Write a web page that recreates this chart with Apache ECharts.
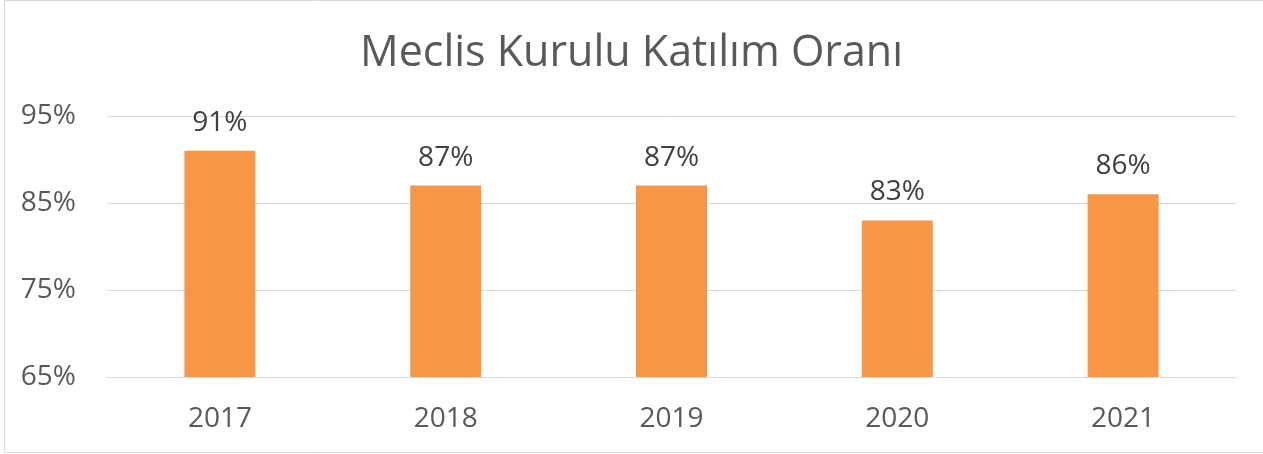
<!DOCTYPE html>
<html>
<head>
<meta charset="utf-8">
<script src="https://cdn.jsdelivr.net/npm/echarts@6/dist/echarts.min.js"></script>
<style>
html,body{margin:0;padding:0;background:#fff;}
#c{width:1263px;height:454px;}
</style>
</head>
<body>
<div id="c"></div>
<script>
var titleText = 'Meclis Kurulu Katılım Oranı';
var categories = ['2017', '2018', '2019', '2020', '2021'];
var values = [91, 87, 87, 83, 86];
var yMin = 65, yMax = 95, yStep = 10;

var chart = echarts.init(document.getElementById('c'));
var font = '"Open Sans", "Noto Sans", sans-serif';
chart.setOption({
  animation: false,
  title: {
    text: titleText,
    left: 'center',
    top: 27,
    textStyle: {fontFamily: font, fontSize: 43, fontWeight: 'normal', color: '#595959'}
  },
  graphic: [{
    type: 'rect', shape: {x: 4.5, y: 0.5, width: 1300, height: 452},
    style: {fill: 'none', stroke: '#D9D9D9', lineWidth: 1}, silent: true
  }],
  grid: {left: 107, right: 27, top: 116, bottom: 77},
  xAxis: {
    type: 'category',
    data: categories,
    axisLine: {show: true, lineStyle: {color: '#D9D9D9', width: 1}},
    axisTick: {show: false},
    axisLabel: {fontFamily: font, fontSize: 28, color: '#595959', margin: 28}
  },
  yAxis: {
    type: 'value',
    min: yMin, max: yMax, interval: yStep,
    axisLine: {show: false},
    axisTick: {show: false},
    splitLine: {lineStyle: {color: '#D9D9D9', width: 1}},
    axisLabel: {fontFamily: font, fontSize: 28, color: '#595959', margin: 31, formatter: '{value}%'}
  },
  series: [{
    type: 'bar',
    data: values,
    barWidth: 71,
    itemStyle: {color: '#F79646'},
    label: {
      show: true, position: 'top', distance: 14,
      fontFamily: font, fontSize: 28, color: '#404040',
      formatter: '{c}%'
    }
  }]
});
</script>
</body>
</html>
